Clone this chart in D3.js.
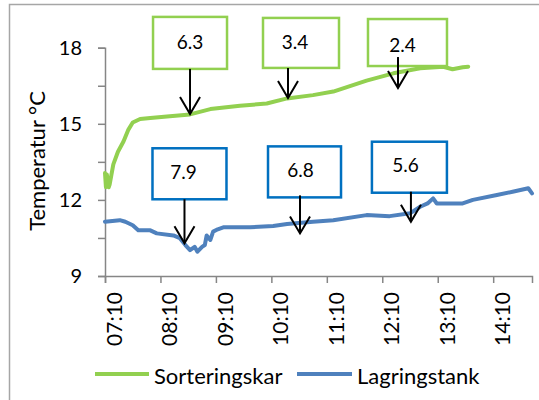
<!DOCTYPE html>
<html>
<head>
<meta charset="utf-8">
<script src="https://cdn.jsdelivr.net/npm/d3@7"></script>
<style>
  html, body { margin: 0; padding: 0; background: #fff; }
  svg { display: block; font-family: Lato, "Open Sans", sans-serif; }
</style>
</head>
<body>
<svg id="chart" width="539" height="400"></svg>
<script>
// Temperature readings, time of day (HH:MM) and °C
const sortTimes = ["07:10","07:11","07:12","07:14","07:15","07:19","07:24","07:30","07:35","07:40","07:48","07:59","08:20","08:42","09:04","09:36","10:05","10:27","10:55","11:17","11:53","12:22","12:51","13:16","13:26","13:37","13:43"];
const sortValues = [13.06,12.5,13.0,12.5,12.6,13.4,13.9,14.3,14.75,15.05,15.19,15.23,15.3,15.37,15.58,15.71,15.8,16.0,16.13,16.27,16.7,16.99,17.19,17.25,17.15,17.23,17.25];

const tankTimes = ["07:10","07:26","07:32","07:40","07:46","07:59","08:06","08:24","08:31","08:37","08:42","08:47","08:50","08:55","08:58","09:00","09:04","09:07","09:12","09:18","09:47","10:12","10:27","10:55","11:17","11:53","12:18","12:40","12:51","12:59","13:05","13:09","13:37","13:48","14:14","14:31","14:48","14:52"];
const tankValues = [11.14,11.2,11.14,11.0,10.8,10.8,10.68,10.6,10.49,10.22,10.02,10.15,9.96,10.15,10.22,10.6,10.42,10.75,10.84,10.92,10.92,10.97,11.05,11.14,11.2,11.4,11.36,11.47,11.73,11.86,12.06,11.86,11.86,12.0,12.19,12.32,12.46,12.26];

// Callouts: label, series, and the point the arrow tip touches
const noteLabels = ["6.3","3.4","2.4","7.9","6.8","5.6"];
const noteSeries = ["sort","sort","sort","tank","tank","tank"];
const noteTimes  = ["08:42","10:28","12:27","08:36","10:41","12:41"];
const noteValues = [15.39,16.02,16.41,10.29,10.68,11.14];

const xTickLabels = ["07:10","08:10","09:10","10:10","11:10","12:10","13:10","14:10"];
const yTicks = [9,10.5,12,13.5,15,16.5,18];
const yTickLabels = ["9","","12","","15","","18"];

const seriesNames = ["Sorteringskar","Lagringstank"];
const yTitle = "Temperatur °C";

const parse = d3.timeParse("%H:%M");
const colors = { sort: "#92d050", tank: "#4f81bd" };
const boxColors = { sort: "#92d050", tank: "#0070c0" };

const svg = d3.select("#chart");

// chart frame
svg.append("rect")
  .attr("x", 9.5).attr("y", 4.5).attr("width", 545).attr("height", 410)
  .attr("fill", "#fff").attr("stroke", "#a6a6a6").attr("stroke-width", 1.5);

const x = d3.scaleTime()
  .domain([parse("07:10"), parse("14:52")])
  .range([105, 532]);
const y = d3.scaleLinear().domain([9, 18]).range([276, 47.7]);

// y axis
const yAxis = d3.axisLeft(y)
  .tickValues(yTicks)
  .tickSize(7)
  .tickPadding(16)
  .tickFormat((d, i) => yTickLabels[i]);
const gy = svg.append("g").attr("transform", "translate(105,0)").call(yAxis);
gy.select(".domain").attr("stroke", "#868686").attr("stroke-width", 1.5);
gy.selectAll(".tick line").attr("stroke", "#868686").attr("stroke-width", 1.5);
gy.selectAll(".tick text").attr("font-size", 20).attr("fill", "#000")
  .attr("font-family", "Lato");

// x axis
const xAxis = d3.axisBottom(x)
  .tickValues(xTickLabels.map(parse))
  .tickSize(7)
  .tickFormat(d3.timeFormat("%H:%M"));
const gx = svg.append("g").attr("transform", "translate(0,276)").call(xAxis);
gx.select(".domain").attr("stroke", "#868686").attr("stroke-width", 1.5);
gx.selectAll(".tick line").attr("stroke", "#868686").attr("stroke-width", 1.5);
gx.selectAll(".tick text")
  .attr("font-size", 21).attr("fill", "#000").attr("font-family", "Lato")
  .attr("text-anchor", "end")
  .attr("dominant-baseline", "central")
  .attr("transform", "translate(8,0) rotate(-90)")
  .attr("x", -16).attr("y", 0).attr("dy", null);

// y title
svg.append("text")
  .attr("transform", "translate(36,161) rotate(-90)")
  .attr("text-anchor", "middle")
  .attr("dominant-baseline", "central")
  .attr("font-size", 22)
  .attr("fill", "#000")
  .text(yTitle);

// series lines
const line = d3.line().x(d => x(d.t)).y(d => y(d.v));
const sortData = sortTimes.map((t, i) => ({ t: parse(t), v: sortValues[i] }));
const tankData = tankTimes.map((t, i) => ({ t: parse(t), v: tankValues[i] }));

svg.append("path").datum(tankData)
  .attr("d", line).attr("fill", "none")
  .attr("stroke", colors.tank).attr("stroke-width", 4)
  .attr("stroke-linejoin", "round").attr("stroke-linecap", "round");
svg.append("path").datum(sortData)
  .attr("d", line).attr("fill", "none")
  .attr("stroke", colors.sort).attr("stroke-width", 4)
  .attr("stroke-linejoin", "round").attr("stroke-linecap", "round");

// callout boxes with arrows (box placement relative to the arrow tip)
const boxLayout = [
  { dx: -37, dy: -97, w: 74, h: 52, tx: 0, ty: -1, shaftTop: 0 },
  { dx: -25, dy: -80, w: 76, h: 50, tx: -6, ty: -1, shaftTop: 0 },
  { dx: -30, dy: -69, w: 79, h: 47, tx: -5, ty: 2, shaftTop: -9 },
  { dx: -32, dy: -95, w: 74, h: 51, tx: -6, ty: -2, shaftTop: 0 },
  { dx: -32, dy: -87, w: 73, h: 51, tx: -4, ty: -2, shaftTop: -2 },
  { dx: -39, dy: -80, w: 75, h: 51, tx: -4, ty: -3, shaftTop: -1 }
];

noteLabels.forEach((lab, i) => {
  const tipX = x(parse(noteTimes[i]));
  const tipY = y(noteValues[i]);
  const L = boxLayout[i];
  const bx = tipX + L.dx, by = tipY + L.dy;
  const g = svg.append("g");
  g.append("rect")
    .attr("x", bx).attr("y", by).attr("width", L.w).attr("height", L.h)
    .attr("fill", "#fff").attr("stroke", boxColors[noteSeries[i]]).attr("stroke-width", 2.5);
  g.append("text")
    .attr("x", bx + L.w / 2 + L.tx).attr("y", by + L.h / 2 + L.ty)
    .attr("text-anchor", "middle").attr("dominant-baseline", "central")
    .attr("font-size", 19).attr("fill", "#000")
    .text(lab);
  const top = by + L.h + L.shaftTop;
  g.append("line")
    .attr("x1", tipX).attr("y1", top).attr("x2", tipX).attr("y2", tipY)
    .attr("stroke", "#000").attr("stroke-width", 2);
  g.append("path")
    .attr("d", `M${tipX - 10},${tipY - 17}L${tipX},${tipY}L${tipX + 10},${tipY - 17}`)
    .attr("fill", "none").attr("stroke", "#000").attr("stroke-width", 2);
});

// legend
const legend = svg.append("g");
const legendItems = [
  { name: seriesNames[0], key: "sort", x0: 95, x1: 149 },
  { name: seriesNames[1], key: "tank", x0: 297, x1: 352 }
];
legendItems.forEach(d => {
  legend.append("line")
    .attr("x1", d.x0).attr("x2", d.x1).attr("y1", 374).attr("y2", 374)
    .attr("stroke", colors[d.key]).attr("stroke-width", 4);
  legend.append("text")
    .attr("x", d.x1 + 5).attr("y", 375)
    .attr("dominant-baseline", "central")
    .attr("font-size", 22).attr("fill", "#000")
    .text(d.name);
});
</script>
</body>
</html>
